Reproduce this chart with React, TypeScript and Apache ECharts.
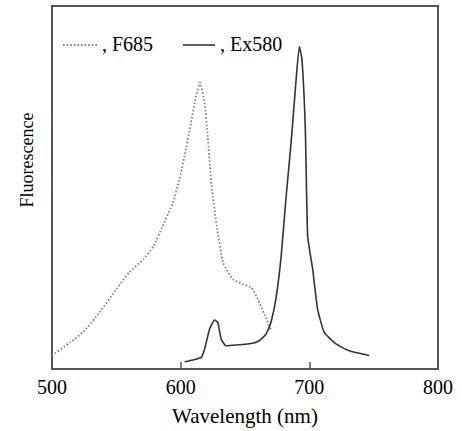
import React, { useEffect, useRef } from "react";
import * as echarts from "echarts";

const xTicks = [500, 600, 700, 800];

const f685Wavelength = [500, 514, 524, 537, 550, 560, 571, 579, 586, 594, 599, 603, 608, 612, 615, 618.6, 621, 624, 628, 633, 640.6, 648, 655, 660, 665, 670];
const f685Values = [3.7, 7.3, 10.1, 15.6, 22.0, 26.6, 30.2, 33.9, 39.4, 45.8, 52.2, 58.6, 67.8, 75.1, 78.9, 73.3, 64.1, 50.4, 39.4, 29.3, 24.7, 23.4, 22.4, 19.2, 15.1, 11.0];

const ex580Wavelength = [603, 609.5, 616, 618.6, 622.5, 626.4, 628.9, 631.5, 635.4, 643, 656, 661, 664, 666.4, 670.3, 674.2, 678.1, 682, 685.8, 689.1, 692.2, 694.3, 696.9, 698.7, 702.6, 706.4, 711.6, 720.7, 731, 746.5];
const ex580Values = [2.0, 2.5, 3.2, 5.5, 11.0, 13.5, 12.8, 8.2, 6.4, 6.6, 7.1, 7.8, 8.7, 9.6, 13.0, 19.7, 31.1, 47.6, 62.3, 76.9, 88.8, 85.2, 65.9, 36.6, 27.5, 16.5, 10.1, 6.9, 5.0, 3.7];

const seriesNames = [", F685", ", Ex580"];
const xName = "Wavelength (nm)";
const yName = "Fluorescence";

const FONT = "Liberation Serif";
const TEXT_COLOR = "#000";
const DOT_COLOR = "#808080";
const LINE_COLOR = "#333333";

export default function App() {
  const ref = useRef<HTMLDivElement>(null);
  useEffect(() => {
    if (!ref.current) return;
    const chart = echarts.init(ref.current, undefined, { renderer: "svg" });
    const f685 = f685Wavelength.map((w, i) => [w, f685Values[i]]);
    const ex580 = ex580Wavelength.map((w, i) => [w, ex580Values[i]]);
    const legendY = 45;
    chart.setOption({
      animation: false,
      grid: {
        left: 52,
        right: 24,
        top: 6,
        bottom: 61,
        show: true,
        borderColor: "#555555",
        borderWidth: 2,
      },
      xAxis: {
        type: "value",
        min: xTicks[0],
        max: xTicks[xTicks.length - 1],
        interval: 100,
        axisLine: { show: false },
        axisTick: { show: true, inside: true, length: 7, lineStyle: { color: "#555555", width: 1.5 } },
        splitLine: { show: false },
        axisLabel: { fontFamily: FONT, fontSize: 20, color: TEXT_COLOR, margin: 8 },
        name: xName,
        nameLocation: "middle",
        nameGap: 36,
        nameTextStyle: { fontFamily: FONT, fontSize: 21, color: TEXT_COLOR },
      },
      yAxis: {
        type: "value",
        min: 0,
        max: 100,
        axisLine: { show: false },
        axisTick: { show: false },
        axisLabel: { show: false },
        splitLine: { show: false },
      },
      graphic: [
        {
          type: "text",
          x: 27,
          y: 160,
          rotation: Math.PI / 2,
          style: {
            text: yName,
            fontFamily: FONT,
            fontSize: 18,
            fill: TEXT_COLOR,
            align: "center",
            verticalAlign: "middle",
          },
        },
        {
          type: "line",
          shape: { x1: 63, y1: legendY, x2: 97, y2: legendY },
          style: { stroke: DOT_COLOR, lineWidth: 1.8, lineDash: [1.6, 2] },
        },
        {
          type: "text",
          x: 102,
          y: legendY - 11,
          style: { text: seriesNames[0], fontFamily: FONT, fontSize: 20, fill: TEXT_COLOR },
        },
        {
          type: "line",
          shape: { x1: 183, y1: legendY, x2: 215, y2: legendY },
          style: { stroke: LINE_COLOR, lineWidth: 1.6 },
        },
        {
          type: "text",
          x: 220,
          y: legendY - 11,
          style: { text: seriesNames[1], fontFamily: FONT, fontSize: 20, fill: TEXT_COLOR },
        },
      ],
      series: [
        {
          name: seriesNames[0],
          type: "line",
          data: f685,
          symbol: "none",
          smooth: 0.15,
          lineStyle: { color: DOT_COLOR, width: 1.8, type: [1.6, 2] },
          itemStyle: { color: DOT_COLOR },
          z: 2,
        },
        {
          name: seriesNames[1],
          type: "line",
          data: ex580,
          symbol: "none",
          smooth: 0.15,
          lineStyle: { color: LINE_COLOR, width: 1.6 },
          itemStyle: { color: LINE_COLOR },
          z: 3,
        },
      ],
    });
    return () => chart.dispose();
  }, []);
  return <div ref={ref} style={{ position: "absolute", left: 0, top: 0, width: 462, height: 431 }} />;
}
